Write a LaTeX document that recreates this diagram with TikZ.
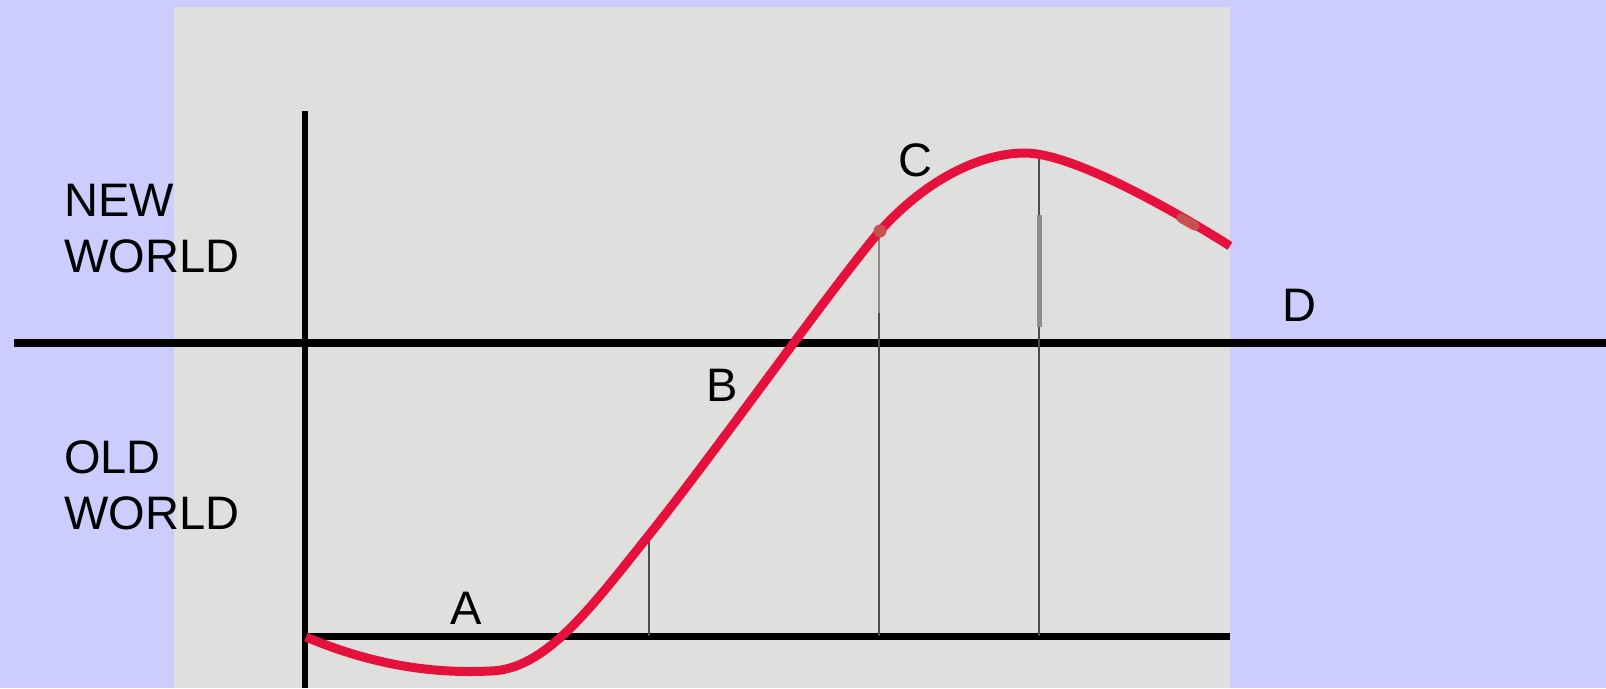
\documentclass[tikz,border=0pt]{standalone}
\usepackage{fontspec}
\setmainfont{Liberation Sans}
\usepackage{xcolor}
\usetikzlibrary{positioning, calc}

\definecolor{bgblue}{HTML}{CCCCFF}
\definecolor{panelgray}{HTML}{DFDFDD}
\definecolor{curvered}{HTML}{E5103C}
\definecolor{markred}{HTML}{C85050}

\begin{document}
\begin{tikzpicture}[
  x=1pt, y=-1pt,
  font=\fontsize{47}{56}\selectfont,
  axis/.style={draw=black, line width=#1},
  guide/.style={draw=#1, line width=2pt},
  lbl/.style={inner sep=0pt, anchor=base}
]

% Background and panel
\fill[bgblue] (0,0) rectangle (1606,688);
\fill[panelgray] (174,7) rectangle (1230,688);
\useasboundingbox (0,0) rectangle (1606,688);

% Axes
\coordinate (ytop) at (305,111);
\coordinate (ybot) at (305,688);
\coordinate (xl) at (305,636);
\coordinate (xr) at (1230,636);
\coordinate (ml) at (14,343);
\coordinate (mr) at (1606,343);
\draw[axis=5.5pt] (ytop) -- (ybot);
\draw[axis=7pt] (xl) -- (xr);
\draw[axis=8pt] (ml) -- (mr);

% Drop lines under the curve
\draw[guide=black!70] (649,535) -- (649,636);
\draw[guide=black!45] (879,232) -- (879,313);
\draw[guide=black!70] (879,313) -- (879,636);
\draw[guide=black!70] (1039,155) -- (1039,636);
\draw[draw=black!45, line width=5pt] (1039,215) -- (1039,327);

% The curve
\draw[curvered, line width=9pt]
  (306,637) .. controls (370,664) and (430,674) .. (490,671)
            .. controls (545,670) and (590,609) .. (649,535)
            .. controls (714,454) and (830,290) .. (879,232)
            .. controls (930,175) and (985,153) .. (1025,153)
            .. controls (1070,153) and (1165,205) .. (1230,246);

% Marks on the curve
\fill[markred] (880,231) circle (6.5pt);
\draw[markred, line width=9.5pt, line cap=round] (1181,218) -- (1195,226);

% Labels
\node[inner sep=0pt, anchor=north west, align=left] (newworld) at (64,184) {NEW\\WORLD};
\node[inner sep=0pt, anchor=north west, align=left] (oldworld) at (64,440) {OLD\\WORLD};
\node[lbl] (labA) at (466,624) {A};
\node[lbl] (labB) at (722,401) {B};
\node[lbl] (labC) at (915,176) {C};
\node[lbl] (labD) at (1299,321) {D};

\end{tikzpicture}
\end{document}
